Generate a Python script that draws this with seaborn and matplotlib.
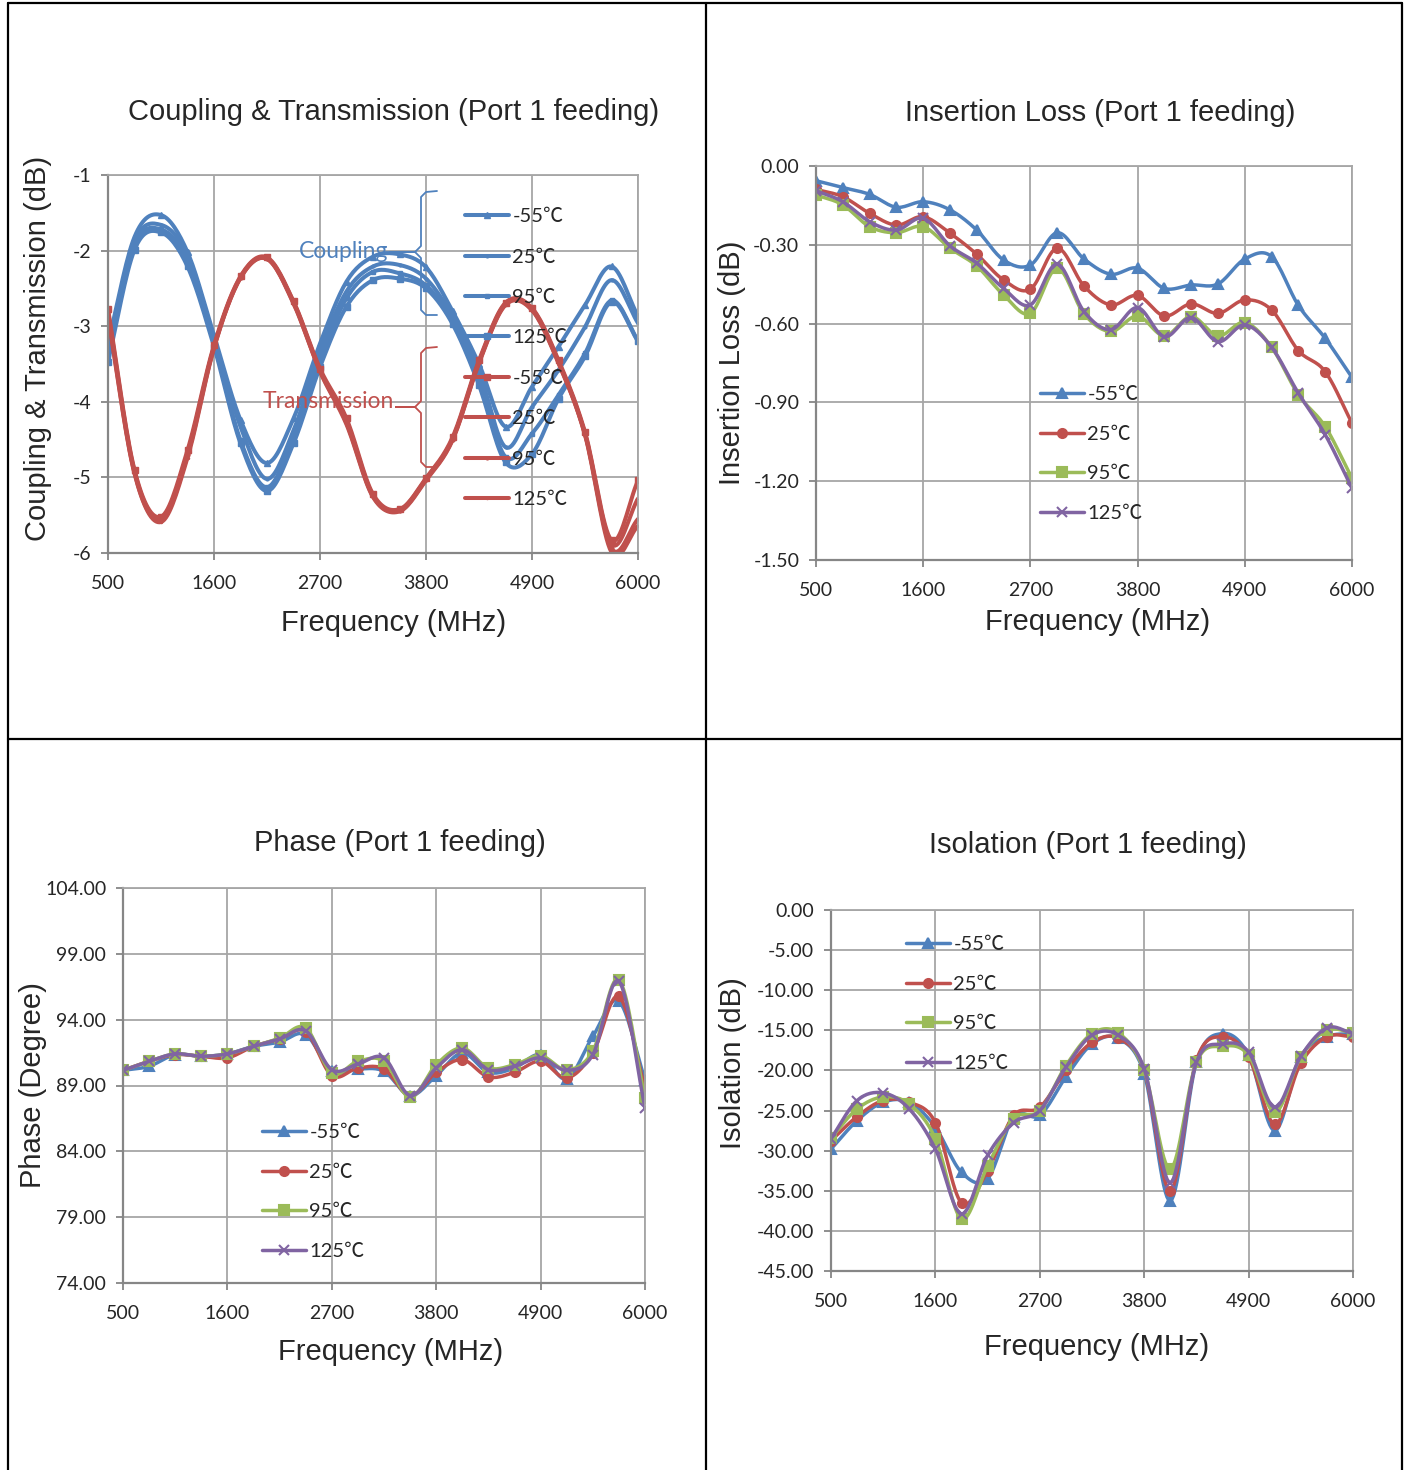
import matplotlib.pyplot as plt
import matplotlib.lines as mlines
from matplotlib.ticker import FormatStrFormatter
import seaborn as sns
import numpy as np

# frequency points (MHz)
freq = [500, 775, 1050, 1325, 1600, 1875, 2150, 2425, 2700, 2975, 3250,
        3525, 3800, 4075, 4350, 4625, 4900, 5175, 5450, 5725, 6000]
temps = ["-55℃", "25℃", "95℃", "125℃"]
xticks = [500, 1600, 2700, 3800, 4900, 6000]

# Coupling (dB)
cpl_m55 = [-3.23, -1.82, -1.53, -2.02, -3.12, -4.24, -4.81, -4.22, -3.23, -2.41, -2.08,
           -2.05, -2.22, -2.80, -3.50, -4.33, -3.80, -3.27, -2.72, -2.21, -2.87]
cpl_25 = [-3.34, -1.88, -1.66, -2.06, -3.17, -4.33, -5.02, -4.38, -3.34, -2.54, -2.21,
          -2.19, -2.37, -2.87, -3.60, -4.60, -4.07, -3.58, -3.01, -2.39, -2.96]
cpl_95 = [-3.40, -1.93, -1.72, -2.13, -3.22, -4.51, -5.13, -4.46, -3.45, -2.63, -2.28,
          -2.30, -2.46, -2.92, -3.70, -4.73, -4.42, -3.91, -3.36, -2.66, -3.19]
cpl_125 = [-3.47, -1.99, -1.76, -2.21, -3.27, -4.55, -5.18, -4.55, -3.54, -2.74, -2.39,
           -2.37, -2.50, -2.97, -3.78, -4.80, -4.69, -3.96, -3.40, -2.68, -3.20]

# Transmission (dB)
trn_m55 = [-2.77, -4.90, -5.52, -4.64, -3.25, -2.34, -2.09, -2.67, -3.56, -4.22, -5.22,
           -5.42, -5.01, -4.47, -3.45, -2.69, -2.76, -3.45, -4.40, -5.83, -5.04]
trn_25 = [-2.81, -4.92, -5.55, -4.68, -3.27, -2.35, -2.10, -2.68, -3.58, -4.25, -5.24,
          -5.43, -5.02, -4.49, -3.47, -2.70, -2.77, -3.47, -4.42, -5.88, -5.28]
trn_95 = [-2.85, -4.94, -5.57, -4.71, -3.28, -2.36, -2.11, -2.69, -3.59, -4.28, -5.25,
          -5.44, -5.03, -4.50, -3.48, -2.71, -2.78, -3.48, -4.43, -5.94, -5.55]
trn_125 = [-2.88, -4.95, -5.59, -4.74, -3.29, -2.36, -2.11, -2.70, -3.60, -4.30, -5.26,
           -5.45, -5.04, -4.51, -3.49, -2.72, -2.79, -3.49, -4.44, -5.99, -5.64]

# Insertion loss (dB)
il_m55 = [-0.056, -0.082, -0.108, -0.157, -0.136, -0.167, -0.244, -0.358, -0.377, -0.254, -0.354,
          -0.412, -0.389, -0.466, -0.453, -0.449, -0.354, -0.345, -0.531, -0.656, -0.805]
il_25 = [-0.089, -0.117, -0.180, -0.225, -0.193, -0.256, -0.336, -0.434, -0.469, -0.313, -0.457,
         -0.529, -0.493, -0.571, -0.525, -0.561, -0.510, -0.548, -0.703, -0.783, -0.979]
il_95 = [-0.110, -0.148, -0.231, -0.254, -0.231, -0.313, -0.381, -0.491, -0.561, -0.389, -0.563,
         -0.630, -0.571, -0.647, -0.573, -0.647, -0.596, -0.690, -0.871, -0.992, -1.189]
il_125 = [-0.094, -0.136, -0.212, -0.244, -0.199, -0.304, -0.370, -0.466, -0.529, -0.373, -0.554,
          -0.623, -0.539, -0.650, -0.577, -0.669, -0.605, -0.690, -0.865, -1.023, -1.227]

# Phase (degree)
ph_m55 = [90.15, 90.46, 91.34, 91.22, 91.40, 91.97, 92.30, 92.86, 90.08, 90.25, 90.08,
          88.23, 89.75, 91.47, 90.00, 90.33, 91.34, 89.49, 92.73, 95.39, 89.44]
ph_25 = [90.15, 90.84, 91.34, 91.22, 91.10, 91.97, 92.53, 93.10, 89.75, 90.33, 90.25,
         88.23, 90.00, 90.96, 89.65, 90.00, 90.84, 89.57, 91.47, 95.77, 88.81]
ph_95 = [90.15, 90.84, 91.40, 91.22, 91.40, 91.97, 92.60, 93.37, 89.95, 90.84, 90.84,
         88.10, 90.58, 91.85, 90.33, 90.58, 91.27, 90.20, 91.60, 97.04, 88.05]
ph_125 = [90.15, 90.84, 91.40, 91.22, 91.40, 91.97, 92.53, 93.15, 90.20, 90.63, 91.10,
          88.23, 90.33, 91.72, 90.20, 90.46, 91.10, 90.15, 91.34, 96.91, 87.29]

# Isolation (dB)
iso_m55 = [-29.8, -26.25, -23.96, -23.96, -27.1, -32.7, -33.5, -25.8, -25.6, -20.8, -16.7,
           -16.0, -20.4, -36.25, -19.0, -15.4, -18.1, -27.5, -18.3, -15.8, -15.4]
iso_25 = [-28.75, -25.75, -23.75, -23.96, -26.5, -36.5, -32.5, -25.6, -24.6, -20.0, -16.5,
          -16.0, -20.0, -35.0, -18.75, -15.8, -18.3, -26.7, -19.1, -15.8, -15.8]
iso_95 = [-28.4, -24.8, -23.3, -24.2, -28.5, -38.5, -31.9, -26.0, -25.0, -19.4, -15.4,
          -15.3, -20.0, -32.3, -19.0, -17.0, -18.1, -25.2, -18.3, -15.0, -15.3]
iso_125 = [-28.5, -23.75, -22.8, -24.8, -29.8, -37.9, -30.6, -26.5, -25.0, -19.6, -15.6,
           -15.6, -19.8, -34.0, -19.0, -16.7, -17.7, -24.6, -18.25, -14.7, -15.4]

BLUE, RED, GREEN, PURPLE = "#4F81BD", "#C0504D", "#9BBB59", "#8064A2"
W, H = 1408, 1470
HEAD = "Liberation Sans"

sns.set_style("white")
plt.rcParams["font.family"] = ["Lato", "Noto Sans CJK SC", "DejaVu Sans"]
plt.rcParams["axes.unicode_minus"] = False

fig = plt.figure(figsize=(W / 100, H / 100), dpi=100)


def smooth(x, y, n=16):
    # Catmull-Rom curve through the points, like Excel's smoothed line
    x = np.asarray(x, float)
    y = np.asarray(y, float)
    px = np.concatenate([[2 * x[0] - x[1]], x, [2 * x[-1] - x[-2]]])
    py = np.concatenate([[2 * y[0] - y[1]], y, [2 * y[-1] - y[-2]]])
    t = np.linspace(0, 1, n, endpoint=False)
    xs, ys = [], []
    for i in range(1, len(px) - 2):
        for p, out in ((px, xs), (py, ys)):
            p0, p1, p2, p3 = p[i - 1], p[i], p[i + 1], p[i + 2]
            out.append(0.5 * (2 * p1 + (p2 - p0) * t + (2 * p0 - 5 * p1 + 4 * p2 - p3) * t ** 2
                              + (3 * p1 - p0 - 3 * p2 + p3) * t ** 3))
    return np.append(np.concatenate(xs), x[-1]), np.append(np.concatenate(ys), y[-1])


def pxy(x, y):
    return x / W, 1 - y / H


def make_ax(box, ylim, yticks, fmt, title, tpos, xlpos, ylabel, ylpos):
    l, t, r, b = box
    ax = fig.add_axes([l / W, 1 - b / H, (r - l) / W, (b - t) / H])
    ax.set_xlim(500, 6000)
    ax.set_ylim(*ylim)
    ax.set_xticks(xticks)
    ax.set_yticks(yticks)
    ax.yaxis.set_major_formatter(FormatStrFormatter(fmt))
    ax.grid(True, color="#A6A6A6", lw=1.3)
    for s in ["top", "right"]:
        ax.spines[s].set_color("#A6A6A6")
        ax.spines[s].set_linewidth(1.3)
    for s in ["left", "bottom"]:
        ax.spines[s].set_color("#868686")
        ax.spines[s].set_linewidth(1.6)
    ax.tick_params(direction="out", length=5, width=1.3, color="#868686", labelsize=14,
                   pad=7, left=True, bottom=True)
    ax.tick_params(axis="x", pad=11)
    fx = lambda x: (x - l) / (r - l)
    fy = lambda y: (b - y) / (b - t)
    ax.set_title(title, family=HEAD, fontsize=21, x=fx(tpos[0]), y=fy(tpos[1]), pad=0, va="center")
    ax.set_xlabel("Frequency (MHz)", family=HEAD, fontsize=21, va="center")
    ax.xaxis.set_label_coords(fx(xlpos[0]), fy(xlpos[1]))
    ax.set_ylabel(ylabel, family=HEAD, fontsize=21, va="center")
    ax.yaxis.set_label_coords(fx(ylpos[0]), fy(ylpos[1]))
    return ax


def draw(ax, y, color, marker, ms, lw, label, mew=1.0):
    xs, ys = smooth(freq, y)
    sns.lineplot(x=xs, y=ys, ax=ax, color=color, lw=lw, sort=False, estimator=None)
    ax.plot(freq, y, ls="none", marker=marker, ms=ms, color=color, mec=color, mew=mew)
    return mlines.Line2D([], [], color=color, lw=lw, marker=marker, ms=ms, mec=color,
                         mew=mew, label=label)


def legend(ax, handles, x, y, spacing, size=14.5):
    ax.legend(handles=handles, loc="upper left", bbox_to_anchor=pxy(x, y),
              bbox_transform=fig.transFigure, frameon=False, borderpad=0, borderaxespad=0,
              handlelength=2.2, handletextpad=0.15, labelspacing=spacing, fontsize=size)


# ---- Coupling & Transmission
ax1 = make_ax((108, 175, 638, 553), (-6, -1), [-6, -5, -4, -3, -2, -1], "%d",
              "Coupling & Transmission (Port 1 feeding)", (394, 112), (394, 623),
              "Coupling & Transmission (dB)", (38, 348))
h = []
for y, m, ms in zip([cpl_m55, cpl_25, cpl_95, cpl_125], ["^", ".", "s", "s"], [4.5, 4, 3.5, 4.5]):
    h.append(draw(ax1, y, BLUE, m, ms, 2.9, None))
for y, m, ms in zip([trn_m55, trn_25, trn_95, trn_125], ["s", "_", ".", "."], [4.5, 5, 4, 3]):
    h.append(draw(ax1, y, RED, m, ms, 2.9, None))
for hh, lab in zip(h, temps + temps):
    hh.set_label(lab)
legend(ax1, h, 465, 208, 1.16)

ax1.text(*pxy(388, 252), "Coupling", color=BLUE, fontsize=16.5, ha="right", va="center",
         transform=fig.transFigure)
ax1.text(*pxy(394, 402), "Transmission", color=RED, fontsize=16.5, ha="right", va="center",
         transform=fig.transFigure)
brace_c = [(437, 191), (426, 192), (421, 197), (421, 246), (415, 252), (390, 252),
           (415, 252), (421, 258), (421, 310), (426, 315), (437, 315)]
brace_t = [(437, 347), (426, 348), (421, 353), (421, 401), (415, 407), (396, 407),
           (415, 407), (421, 413), (421, 462), (426, 467), (437, 467)]
for pts, col in ((brace_c, BLUE), (brace_t, RED)):
    xx, yy = zip(*[pxy(a, b) for a, b in pts])
    fig.add_artist(mlines.Line2D(xx, yy, color=col, lw=1.3, transform=fig.transFigure))

# ---- Insertion loss
ax2 = make_ax((816, 166, 1352, 560), (-1.5, 0), [-1.5, -1.2, -0.9, -0.6, -0.3, 0.0], "%.2f",
              "Insertion Loss (Port 1 feeding)", (1100, 113), (1098, 622),
              "Insertion Loss (dB)", (732, 363))
series4 = [(BLUE, "^", 7), (RED, "o", 6.5), (GREEN, "s", 6.5), (PURPLE, "x", 7)]
h = [draw(ax2, y, c, m, ms, 2.5, lab, mew=1.5)
     for y, (c, m, ms), lab in zip([il_m55, il_25, il_95, il_125], series4, temps)]
legend(ax2, h, 1040, 386, 1.12)

# ---- Phase
ax3 = make_ax((123, 888, 645, 1283), (74, 104), [74, 79, 84, 89, 94, 99, 104], "%.2f",
              "Phase (Port 1 feeding)", (400, 843), (391, 1352),
              "Phase (Degree)", (33, 1085))
h = [draw(ax3, y, c, m, ms, 2.5, lab, mew=1.5)
     for y, (c, m, ms), lab in zip([ph_m55, ph_25, ph_95, ph_125], series4, temps)]
legend(ax3, h, 262, 1124, 1.12)

# ---- Isolation
ax4 = make_ax((831, 910, 1353, 1271), (-45, 0), list(range(-45, 1, 5)), "%.2f",
              "Isolation (Port 1 feeding)", (1088, 845), (1097, 1347),
              "Isolation (dB)", (733, 1063))
h = [draw(ax4, y, c, m, ms, 2.5, lab, mew=1.5)
     for y, (c, m, ms), lab in zip([iso_m55, iso_25, iso_95, iso_125], series4, temps)]
legend(ax4, h, 906, 936, 1.12)

# table frame around the four charts
frame = [((8, 8), (3, H)), ((1402, 1402), (3, H)), ((706, 706), (3, H)),
         ((8, 1402), (3, 3)), ((8, 1402), (739, 739))]
for xs, ys in frame:
    xx = [v / W for v in xs]
    yy = [1 - v / H for v in ys]
    fig.add_artist(mlines.Line2D(xx, yy, color="black", lw=1.6, transform=fig.transFigure))

fig.savefig("out.png", dpi=100)
